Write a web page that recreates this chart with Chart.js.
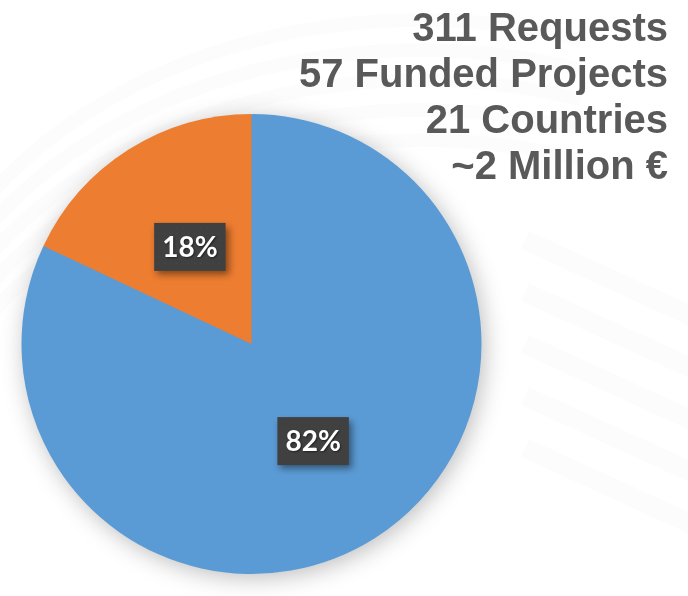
<!DOCTYPE html>
<html>
<head>
<meta charset="utf-8">
<script src="https://cdn.jsdelivr.net/npm/chart.js@4.4.0/dist/chart.umd.min.js"></script>
<style>
  body { margin: 0; background: #fff; }
  #wrap { position: relative; width: 688px; height: 596px; overflow: hidden; }
  #facts {
    position: absolute; top: 4px; right: 20px;
    font: bold 40px "Liberation Sans", Arial, sans-serif;
    line-height: 46px; color: #595959; text-align: right;
    white-space: nowrap;
  }
</style>
</head>
<body>
<div id="wrap">
  <canvas id="pie" width="688" height="596"></canvas>
  <div id="facts">
    <div>311 Requests</div>
    <div>57 Funded Projects</div>
    <div>21 Countries</div>
    <div>~2 Million €</div>
  </div>
</div>
<script>
var labels = ["Not funded", "Funded"];
var shares = [82, 18];
var colors = ["#5B9BD5", "#ED7D31"];

// faint background swooshes + soft shadow under the pie
var backdrop = {
  id: 'backdrop',
  beforeDraw: function(chart) {
    var ctx = chart.ctx;
    ctx.save();
    ctx.fillStyle = '#ffffff';
    ctx.fillRect(0, 0, chart.width, chart.height);
    ctx.strokeStyle = 'rgba(0,0,0,0.012)';
    ctx.lineWidth = 14;
    for (var i = 0; i < 5; i++) {
      ctx.beginPath();
      ctx.ellipse(420, 420 + i * 30, 520, 400, 0, Math.PI * 1.05, Math.PI * 1.6);
      ctx.stroke();
    }
    ctx.lineWidth = 20;
    for (var j = 0; j < 5; j++) {
      ctx.beginPath();
      ctx.moveTo(525, 240 + j * 52);
      ctx.lineTo(700, 320 + j * 52);
      ctx.stroke();
    }
    ctx.restore();
  },
  beforeDatasetsDraw: function(chart) {
    var arc = chart.getDatasetMeta(0).data[0];
    var ctx = chart.ctx;
    ctx.save();
    ctx.shadowColor = 'rgba(0,0,0,0.28)';
    ctx.shadowBlur = 24;
    ctx.shadowOffsetX = 3;
    ctx.shadowOffsetY = 4;
    ctx.fillStyle = colors[0];
    ctx.beginPath();
    ctx.arc(arc.x, arc.y, arc.outerRadius - 1, 0, Math.PI * 2);
    ctx.fill();
    ctx.restore();
  }
};

// dark boxed percentage labels
var boxLabels = {
  id: 'boxLabels',
  afterDatasetsDraw: function(chart) {
    var ctx = chart.ctx;
    var meta = chart.getDatasetMeta(0);
    ctx.save();
    ctx.font = 'bold 28px Lato, "Open Sans", sans-serif';
    ctx.textAlign = 'center';
    ctx.textBaseline = 'middle';
    meta.data.forEach(function(arc, i) {
      var p = arc.tooltipPosition();
      var txt = shares[i] + '%';
      var w = ctx.measureText(txt).width + 16;
      var h = 48;
      var x0 = p.x - w / 2, y0 = p.y - h / 2;
      ctx.save();
      ctx.shadowColor = 'rgba(0,0,0,0.45)';
      ctx.shadowBlur = 7;
      ctx.shadowOffsetX = 3;
      ctx.shadowOffsetY = 4;
      ctx.fillStyle = '#404040';
      ctx.fillRect(x0, y0, w, h);
      ctx.restore();
      ctx.fillStyle = '#4a4a4a';
      for (var dx = 4; dx < w - 2; dx += 6) {
        for (var dy = 4; dy < h - 2; dy += 6) {
          ctx.fillRect(x0 + dx, y0 + dy, 1, 1);
        }
      }
      ctx.save();
      ctx.shadowColor = 'rgba(0,0,0,0.5)';
      ctx.shadowBlur = 2;
      ctx.shadowOffsetX = 1;
      ctx.shadowOffsetY = 1;
      ctx.fillStyle = '#ffffff';
      ctx.fillText(txt, p.x, p.y + 1);
      ctx.restore();
    });
    ctx.restore();
  }
};

new Chart(document.getElementById('pie'), {
  type: 'pie',
  data: {
    labels: labels,
    datasets: [{
      data: shares,
      backgroundColor: colors,
      borderWidth: 0
    }]
  },
  options: {
    responsive: false,
    animation: false,
    layout: { padding: { left: 21, right: 206, top: 114, bottom: 22 } },
    plugins: {
      legend: { display: false },
      tooltip: { enabled: false }
    }
  },
  plugins: [backdrop, boxLabels]
});
</script>
</body>
</html>
